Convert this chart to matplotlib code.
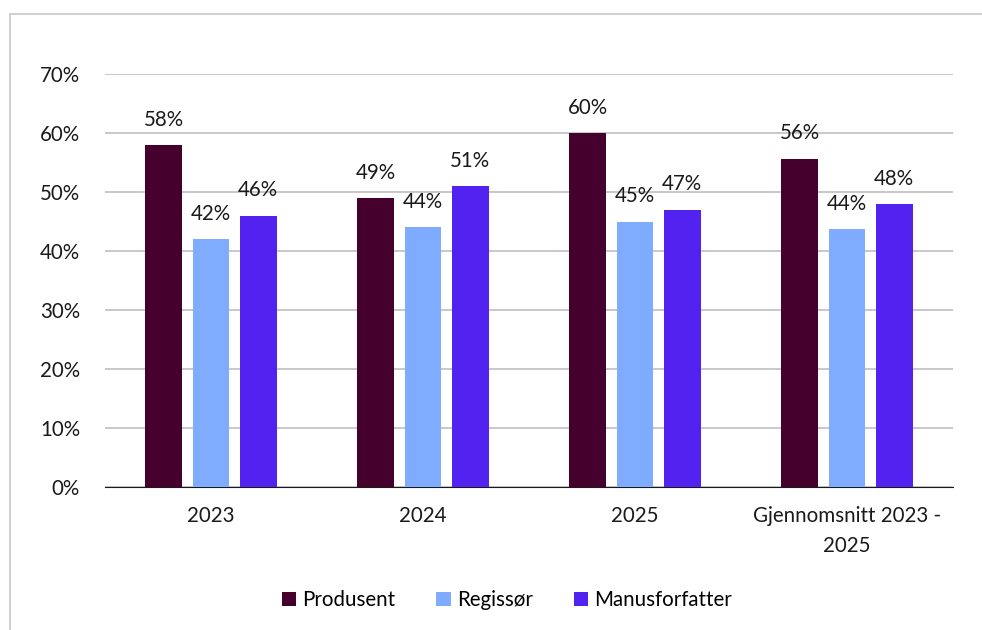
import matplotlib.pyplot as plt
import numpy as np
from matplotlib.patches import Rectangle

plt.rcParams['font.family'] = ['Lato', 'DejaVu Sans']

categories = ['2023', '2024', '2025', 'Gjennomsnitt 2023 -\n2025']
series = ['Produsent', 'Regissør', 'Manusforfatter']
produsent = [58, 49, 60, 55.67]
regissor = [42, 44, 45, 43.67]
manus = [46, 51, 47, 48.0]
colors = ['#45002D', '#7FACFF', '#5222F0']

fig = plt.figure(figsize=(9.82, 6.30), dpi=100)
ax = fig.add_axes([105 / 982, 1 - 487 / 630, 848 / 982, 413 / 630])

# outer border like the chart frame
fig.patches.append(Rectangle((10 / 982, -0.1), 1.2, (630 - 14) / 630 + 0.1,
                             transform=fig.transFigure, fill=False,
                             edgecolor='#C8C8C8', linewidth=1.2))

fs = 14.8
x = np.arange(len(categories))
w = 0.1745
step = 0.222
for i, (vals, name) in enumerate(zip([produsent, regissor, manus], series)):
    pos = x + (i - 1) * step
    ax.bar(pos, vals, w, color=colors[i], label=name, zorder=3)
    for p, v in zip(pos, vals):
        ax.annotate(f'{v:.0f}%', (p, v), xytext=(0, 11), textcoords='offset points',
                    ha='center', va='bottom', fontsize=fs, color='#1a1a1a')

ax.set_xlim(-0.5, 3.5)
ax.set_ylim(0, 70)
ax.set_yticks(range(0, 71, 10))
ax.set_yticklabels([f'{t}%' for t in range(0, 71, 10)], fontsize=fs)
ax.set_xticks(x)
ax.set_xticklabels(categories, fontsize=fs, linespacing=1.6)
ax.yaxis.grid(True, color='#BFBFBF', linewidth=1.2, zorder=0)
for s in ['top', 'right', 'left']:
    ax.spines[s].set_visible(False)
ax.spines['bottom'].set_color('#1a1a1a')
ax.tick_params(axis='x', length=0, pad=14, colors='#1a1a1a')
ax.tick_params(axis='y', length=0, pad=18, colors='#1a1a1a')

fig.legend(loc='center', bbox_to_anchor=(507 / 982, 1 - 600 / 630), ncol=3,
           frameon=False, fontsize=fs, handlelength=0.7, handleheight=0.7,
           handletextpad=0.3, columnspacing=2.0)

fig.savefig('out.png', dpi=100)
